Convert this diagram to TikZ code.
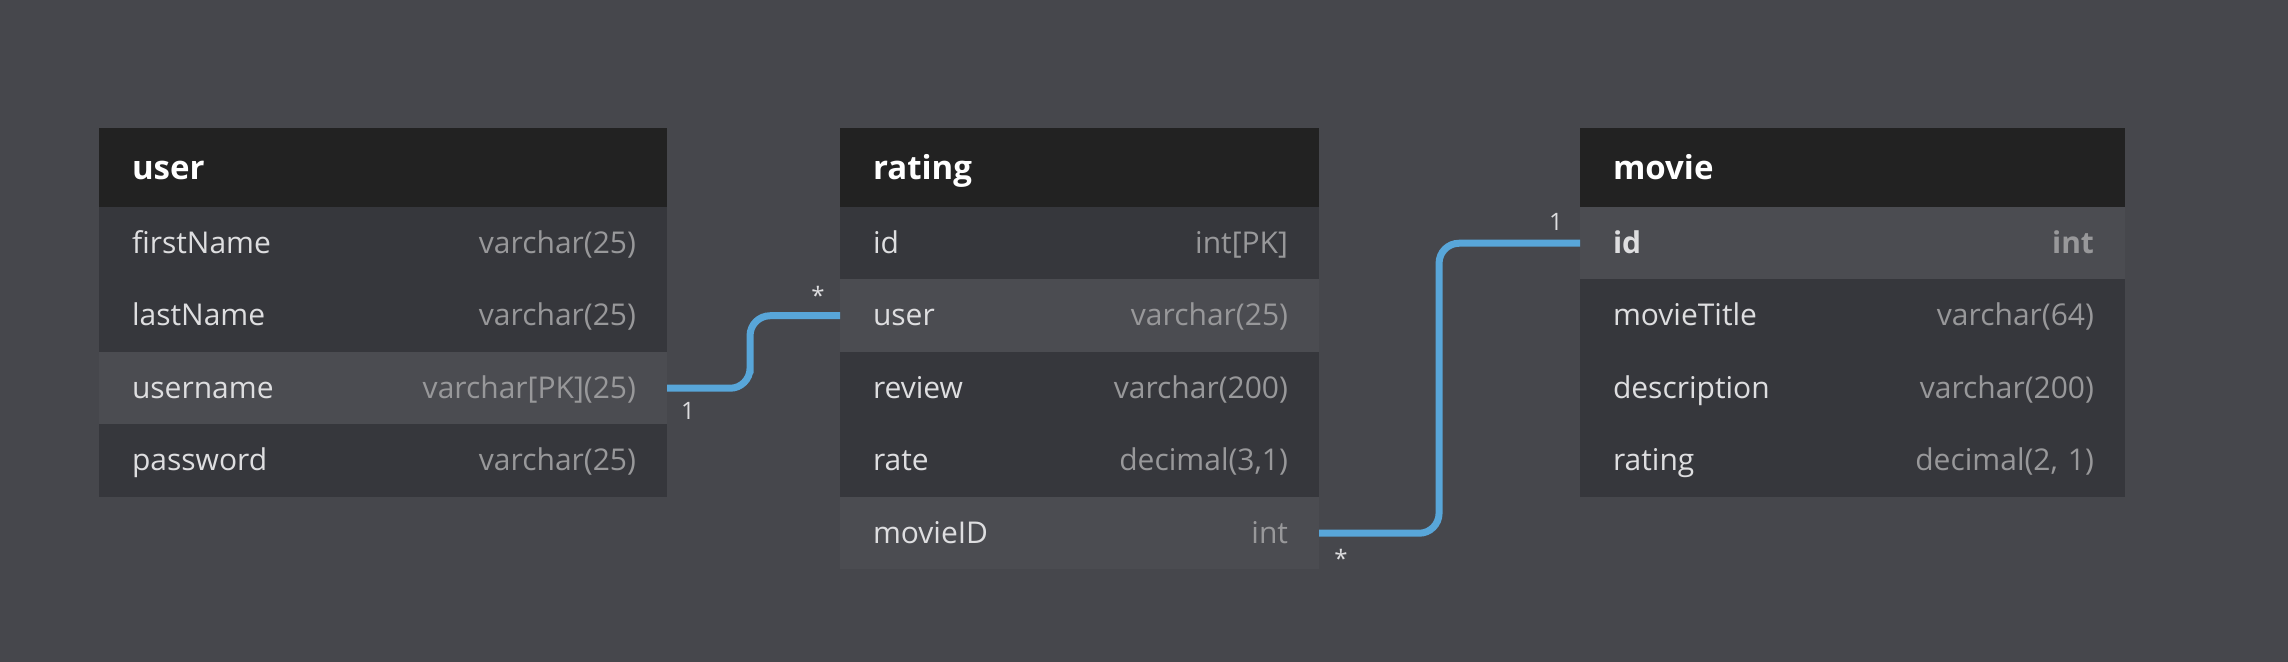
\documentclass[tikz,border=0pt]{standalone}
\usepackage{fontspec}
\setmainfont{Open Sans}
\usetikzlibrary{calc,positioning}
\definecolor{canvas}{RGB}{70,71,76}
\definecolor{headbg}{RGB}{34,34,34}
\definecolor{rowbg}{RGB}{54,55,60}
\definecolor{rowhi}{RGB}{75,76,81}
\definecolor{fieldtxt}{RGB}{222,222,224}
\definecolor{typetxt}{RGB}{152,152,154}
\definecolor{relblue}{RGB}{88,166,217}

\tikzset{
  tablehead/.style={anchor=north west, fill=headbg, text=white,
    font=\fontsize{16.5}{18}\selectfont\bfseries, align=left,
    minimum height=39.5pt, inner xsep=15.5pt, inner ysep=0pt, outer sep=0pt,
    text height=15.5pt, text depth=3.5pt},
  field/.style={fill=rowbg, text=fieldtxt,
    font=\fontsize{15}{17}\selectfont, align=left,
    minimum height=36.25pt, inner xsep=15.5pt, inner ysep=0pt, outer sep=0pt,
    text height=13.5pt, text depth=3.5pt},
  keyfield/.style={field, fill=rowhi},
  relation/.style={draw=relblue, line width=3.5pt, rounded corners=10pt},
  card/.style={text=fieldtxt, font=\fontsize{12}{14}\selectfont, inner sep=0pt}
}
\newcommand{\ftype}[1]{\hfill{\color{typetxt}#1}}

\begin{document}
\begin{tikzpicture}[x=0.5pt, y=-0.5pt]
  % canvas
  \fill[canvas] (0,0) rectangle (2288,662);
  % user table
  \node[tablehead, text width=253pt] (user) at (99,128) {\hspace*{1pt}user};
  \node[field, text width=253pt, below=0pt of user] (user-first) {\hspace*{1pt}firstName\ftype{varchar(25)}};
  \node[field, text width=253pt, below=0pt of user-first] (user-last) {\hspace*{1pt}lastName\ftype{varchar(25)}};
  \node[keyfield, text width=253pt, below=0pt of user-last] (user-uname) {\hspace*{1pt}username\ftype{varchar[PK](25)}};
  \node[field, text width=253pt, below=0pt of user-uname] (user-pass) {\hspace*{1pt}password\ftype{varchar(25)}};
  % rating table
  \node[tablehead, text width=208.5pt] (rating) at (840,128) {\hspace*{1pt}rating};
  \node[field, text width=208.5pt, below=0pt of rating] (rating-id) {\hspace*{1pt}id\ftype{int[PK]}};
  \node[keyfield, text width=208.5pt, below=0pt of rating-id] (rating-user) {\hspace*{1pt}user\ftype{varchar(25)}};
  \node[field, text width=208.5pt, below=0pt of rating-user] (rating-review) {\hspace*{1pt}review\ftype{varchar(200)}};
  \node[field, text width=208.5pt, below=0pt of rating-review] (rating-rate) {\hspace*{1pt}rate\ftype{decimal(3,1)}};
  \node[keyfield, text width=208.5pt, below=0pt of rating-rate] (rating-movie) {\hspace*{1pt}movieID\ftype{int}};
  % movie table
  \node[tablehead, text width=241.5pt] (movie) at (1580,128) {\hspace*{1pt}movie};
  \node[keyfield, text width=241.5pt, below=0pt of movie] (movie-id) {\hspace*{1pt}\bfseries id\ftype{int}};
  \node[field, text width=241.5pt, below=0pt of movie-id] (movie-title) {\hspace*{1pt}movieTitle\ftype{varchar(64)}};
  \node[field, text width=241.5pt, below=0pt of movie-title] (movie-desc) {\hspace*{1pt}description\ftype{varchar(200)}};
  \node[field, text width=241.5pt, below=0pt of movie-desc] (movie-rating) {\hspace*{1pt}rating\ftype{decimal(2, 1)}};
  % relations
  \draw[relation] (user-uname.east) -| ($(user-uname.east)!.48!(rating-user.west)$) |- (rating-user.west);
  \draw[relation] (rating-movie.east) -| ($(rating-movie.east)!.46!(movie-id.west)$) |- (movie-id.west);
  % cardinalities
  \node[card] (c-uname) at ([shift={(21,23)}]user-uname.east) {1};
  \node[card] (c-ruser) at ([shift={(-22,-20)}]rating-user.west) {*};
  \node[card] (c-rmovie) at ([shift={(22,25)}]rating-movie.east) {*};
  \node[card] (c-mid) at ([shift={(-24,-21)}]movie-id.west) {1};
\end{tikzpicture}
\end{document}
